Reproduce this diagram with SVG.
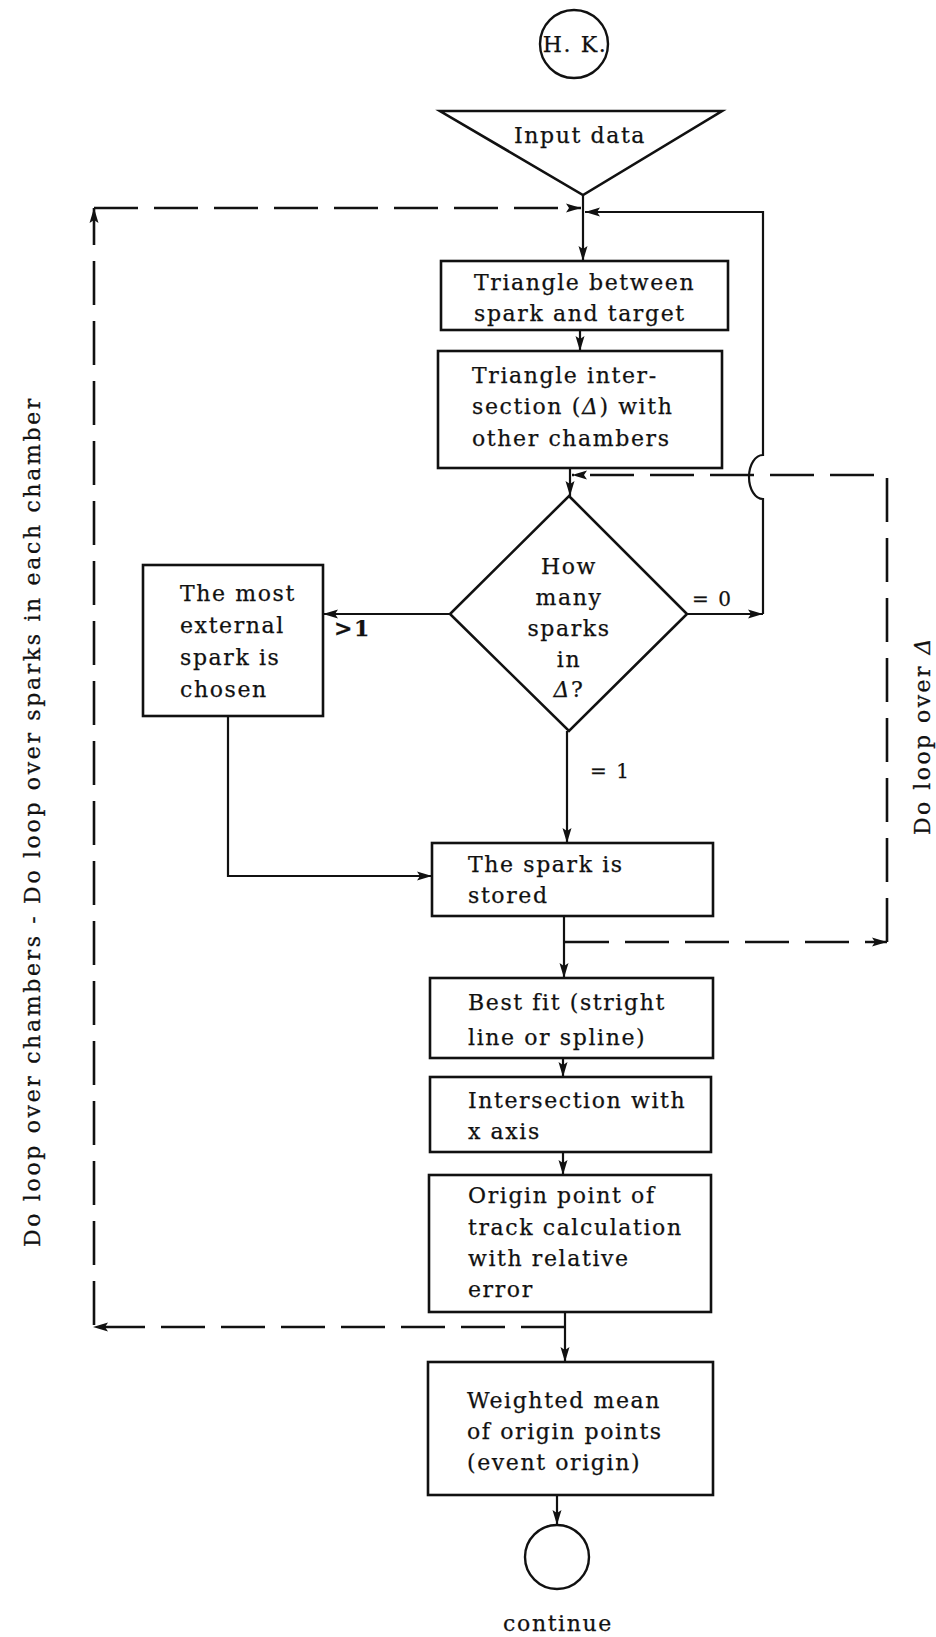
<svg xmlns="http://www.w3.org/2000/svg" width="936" height="1637" viewBox="0 0 936 1637">
<defs>
<marker id="ah" markerUnits="userSpaceOnUse" markerWidth="16" markerHeight="10" refX="15" refY="5" orient="auto">
<path d="M0,0.5 L15,5 L0,9.5 L3,5 z" fill="#111"/>
</marker>
<style>
.box{fill:#fff;stroke:#111;stroke-width:2.6}
.ln{fill:none;stroke:#111;stroke-width:2.2}
.dl{fill:none;stroke:#111;stroke-width:2.6;stroke-dasharray:44 16}
.t{font-family:"DejaVu Serif","Liberation Serif",serif;font-size:22px;letter-spacing:1.6px;fill:#111;stroke:#111;stroke-width:0.25}
.c{text-anchor:middle}
.s{font-size:20px}
</style>
</defs>
<rect width="936" height="1637" fill="#fff"/>

<g id="connectors">
<path class="ln" d="M583,195 V261" marker-end="url(#ah)"/>
<path class="dl" d="M565,1327 H93" marker-end="url(#ah)"/>
<path class="dl" d="M94,1325 V208" marker-end="url(#ah)"/>
<path class="dl" d="M94,208 H581" marker-end="url(#ah)"/>
<path class="ln" d="M687,614 H763" marker-end="url(#ah)"/>
<path class="ln" d="M763,614 V499 A14,22 0 0 1 763,455 V212 H585" marker-end="url(#ah)"/>
<path class="ln" d="M580,330 V351" marker-end="url(#ah)"/>
<path class="ln" d="M570,468 V496" marker-end="url(#ah)"/>
<path class="dl" d="M565,942 H887" marker-end="url(#ah)"/>
<path class="dl" d="M887,942 V475 H572" marker-end="url(#ah)"/>
<path class="ln" d="M450,614 H323" marker-end="url(#ah)"/>
<path class="ln" d="M228,716 V876 H432" marker-end="url(#ah)"/>
<path class="ln" d="M567,731 V843" marker-end="url(#ah)"/>
<path class="ln" d="M564,916 V978" marker-end="url(#ah)"/>
<path class="ln" d="M563,1058 V1077" marker-end="url(#ah)"/>
<path class="ln" d="M563,1152 V1175" marker-end="url(#ah)"/>
<path class="ln" d="M565,1312 V1362" marker-end="url(#ah)"/>
<path class="ln" d="M557,1495 V1525" marker-end="url(#ah)"/>
<text class="t s" x="692" y="606">= 0</text>
<text class="t" x="334" y="636" font-weight="bold">&gt;1</text>
<text class="t s" x="590" y="778">= 1</text>
</g>

<g id="hk">
<circle cx="574" cy="44" r="34" fill="#fff" stroke="#111" stroke-width="2.4"/>
<text class="t c" x="575" y="52" letter-spacing="0">H. K.</text>
</g>

<g id="input">
<polygon points="440,111 722,111 583,195" fill="#fff" stroke="#111" stroke-width="2.6"/>
<text class="t c" x="580" y="143">Input data</text>
</g>

<g id="triangle">
<rect class="box" x="441" y="261" width="287" height="69"/>
<text class="t" x="474" y="290">Triangle between</text>
<text class="t" x="474" y="321">spark and target</text>
</g>

<g id="intersection">
<rect class="box" x="438" y="351" width="284" height="117"/>
<text class="t" x="472" y="383">Triangle inter-</text>
<text class="t" x="472" y="414">section (<tspan font-style="italic">Δ</tspan>) with</text>
<text class="t" x="472" y="446">other chambers</text>
</g>

<g id="decision">
<polygon points="569,496 687,614 569,731 450,614" fill="#fff" stroke="#111" stroke-width="2.6"/>
<text class="t c" x="569" y="574">How</text>
<text class="t c" x="569" y="605">many</text>
<text class="t c" x="569" y="636">sparks</text>
<text class="t c" x="569" y="667">in</text>
<text class="t c" x="569" y="697"><tspan font-style="italic">Δ</tspan>?</text>
</g>

<g id="external">
<rect class="box" x="143" y="565" width="180" height="151"/>
<text class="t" x="180" y="601">The most</text>
<text class="t" x="180" y="633">external</text>
<text class="t" x="180" y="665">spark is</text>
<text class="t" x="180" y="697">chosen</text>
</g>

<g id="stored">
<rect class="box" x="432" y="843" width="281" height="73"/>
<text class="t" x="468" y="872">The spark is</text>
<text class="t" x="468" y="903">stored</text>
</g>

<g id="bestfit">
<rect class="box" x="430" y="978" width="283" height="80"/>
<text class="t" x="468" y="1010">Best fit (stright</text>
<text class="t" x="468" y="1045">line or spline)</text>
</g>

<g id="xaxis">
<rect class="box" x="430" y="1077" width="281" height="75"/>
<text class="t" x="468" y="1108">Intersection with</text>
<text class="t" x="468" y="1139">x axis</text>
</g>

<g id="origin">
<rect class="box" x="429" y="1175" width="282" height="137"/>
<text class="t" x="468" y="1203">Origin point of</text>
<text class="t" x="468" y="1235">track calculation</text>
<text class="t" x="468" y="1266">with relative</text>
<text class="t" x="468" y="1297">error</text>
</g>

<g id="weighted">
<rect class="box" x="428" y="1362" width="285" height="133"/>
<text class="t" x="467" y="1408">Weighted mean</text>
<text class="t" x="467" y="1439">of origin points</text>
<text class="t" x="467" y="1470">(event origin)</text>
</g>

<g id="continue">
<circle cx="557" cy="1557" r="32" fill="#fff" stroke="#111" stroke-width="2.4"/>
<text class="t c" x="558" y="1631">continue</text>
</g>

<g id="labels">
<text class="t c" transform="translate(40,822) rotate(-90)" textLength="850" lengthAdjust="spacing" letter-spacing="0">Do loop over chambers - Do loop over sparks in each chamber</text>
<text class="t c" transform="translate(930,736) rotate(-90)" textLength="198" lengthAdjust="spacing" letter-spacing="0">Do loop over <tspan font-style="italic">Δ</tspan></text>
</g>
</svg>
